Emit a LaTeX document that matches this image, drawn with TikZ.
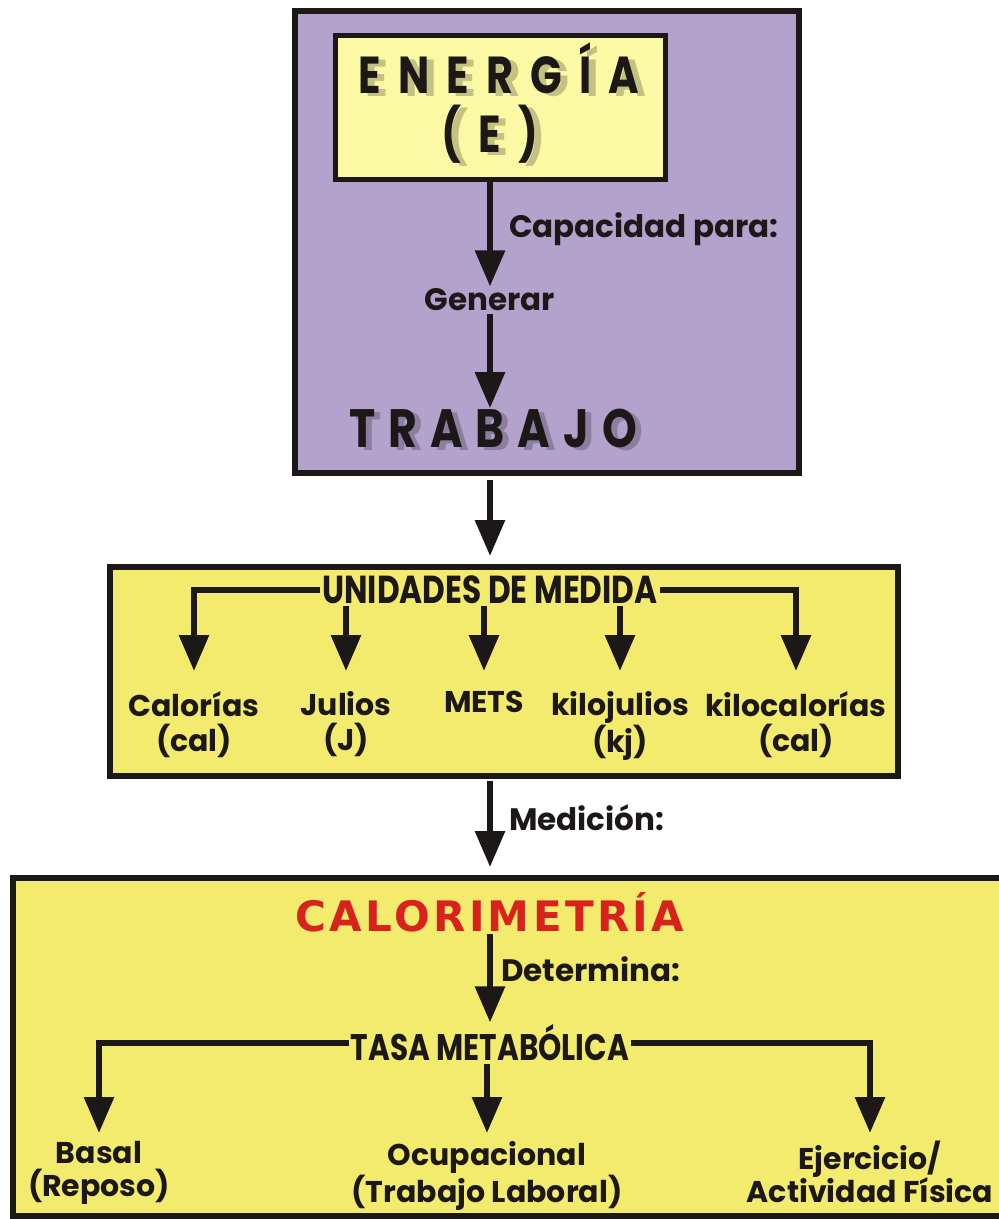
\documentclass[tikz,border=0pt]{standalone}
\usepackage{fontspec}
\setmainfont{Poppins}
\newfontfamily\anchafont{Poppins}[LetterSpace=33,FakeStretch=0.8]
\newfontfamily\trabfont{Poppins}[LetterSpace=24,FakeStretch=0.82]
\newfontfamily\estrechafont{Poppins}[FakeStretch=0.8]
\newfontfamily\verdanafont{DejaVu Sans}[LetterSpace=8]
\usetikzlibrary{arrows.meta,positioning}
\definecolor{lila}{RGB}{179,162,204}
\definecolor{amarillo}{RGB}{242,235,110}
\definecolor{claro}{RGB}{252,249,165}
\definecolor{rojo}{RGB}{216,34,30}
\definecolor{tinta}{RGB}{28,24,24}
\tikzset{
	>={Triangle[length=18pt,width=14.5pt]},
	con/.style={draw=tinta,line width=3pt},
	caja/.style={draw=tinta,line width=3pt},
	grande/.style={font=\anchafont\bfseries\fontsize{26}{29.5}\selectfont,text=tinta,align=center,inner sep=0pt},
	trab/.style={grande,font=\trabfont\bfseries\fontsize{27}{29.5}\selectfont},
	sombra/.style={text=black,text opacity=0.22},
	etiq/.style={font=\bfseries\fontsize{15.5}{17}\selectfont,text=tinta,inner sep=1pt},
	titulo/.style={font=\estrechafont\bfseries\fontsize{19.5}{20}\selectfont,text=tinta,inner sep=1pt},
	tasatit/.style={titulo,font=\estrechafont\bfseries\fontsize{18.5}{20}\selectfont},
	rojotit/.style={font=\verdanafont\bfseries\fontsize{21}{22}\selectfont,text=rojo,inner sep=1pt},
	unidad/.style={font=\bfseries\fontsize{15}{17.5}\selectfont,text=tinta,align=center,anchor=north,inner xsep=0pt,inner ysep=10pt},
	tipo/.style={unidad,font=\bfseries\fontsize{15}{16.5}\selectfont,inner ysep=4pt}
}
\begin{document}
\begin{tikzpicture}[x=0.5pt,y=-0.5pt]
	\useasboundingbox (0,0) rectangle (999,1219);
	\node[caja,fill=lila,minimum width=252pt,minimum height=231pt] (lilabox) at (547,242) {};
	\node[caja,line width=2.5pt,fill=claro,minimum width=165pt,minimum height=72pt] (energia) at (500,108) {};
	\node[grande,sombra] at (506,106) {ENERGÍA\\(E)\kern9pt};
	\node[grande] (energiatxt) at (499,103) {ENERGÍA\\(E)\kern9pt};
	\node[etiq] (generar) at (490,300) {Generar};
	\node[trab,sombra] at (499,431) {TRABAJO};
	\node[trab] (trabajo) at (493,428) {TRABAJO};
	\draw[con,->] (energia.south -| generar.north) -- node[etiq,anchor=west,xshift=7pt,pos=0.45] {Capacidad para:} (generar.north);
	\draw[con,->] (generar.south) -- (generar.south |- trabajo.north);

	\node[caja,fill=amarillo,minimum width=394pt,minimum height=104.5pt] (ubox) at (504,671.5) {};
	\draw[con,->,shorten <=2pt,shorten >=4pt] (generar |- lilabox.south) -- (generar |- ubox.north);
	\node[titulo] (utit) at (490,590) {UNIDADES DE MEDIDA};
	\node[unidad] (cal) at (194,671) {Calorías\\(cal)};
	\node[unidad] (jul) at (346,671) {Julios\\(J)};
	\node[unidad] (mets) at (484,671) {METS};
	\node[unidad] (kj) at (620,671) {kilojulios\\(kj)};
	\node[unidad] (kcal) at (796,671) {kilocalorías\\(cal)};
	\draw[con,->] (utit.west) -| (cal.north);
	\draw[con,->] (utit.south -| jul.north) -- (jul.north);
	\draw[con,->] (utit.south -| mets.north) -- (mets.north);
	\draw[con,->] (utit.south -| kj.north) -- (kj.north);
	\draw[con,->] (utit.east) -| (kcal.north);

	\node[caja,fill=amarillo,minimum width=498.5pt,minimum height=169pt] (cbox) at (511.5,1047) {};
	\draw[con,->,shorten <=1pt,shorten >=4pt] (generar |- ubox.south) -- node[etiq,anchor=west,xshift=7pt,pos=0.4] {Medición:} (generar |- cbox.north);
	\node[rojotit] (calt) at (490,912) {CALORIMETRÍA};
	\node[tasatit] (tasa) at (490,1043) {TASA METABÓLICA};
	\draw[con,->] (calt.south) -- node[etiq,anchor=west,xshift=3pt,pos=0.4] {Determina:} (calt.south |- tasa.north);
	\node[tipo] (basal) at (99,1133) {Basal\\(Reposo)};
	\node[tipo] (ocup) at (487,1133) {Ocupacional\\(Trabajo Laboral)};
	\node[tipo] (ejer) at (870,1133) {Ejercicio/\\Actividad Física};
	\draw[con,->] (tasa.west) -| (basal.north);
	\draw[con,->] (tasa.south -| ocup.north) -- (ocup.north);
	\draw[con,->] (tasa.east) -| (ejer.north);
\end{tikzpicture}
\end{document}
